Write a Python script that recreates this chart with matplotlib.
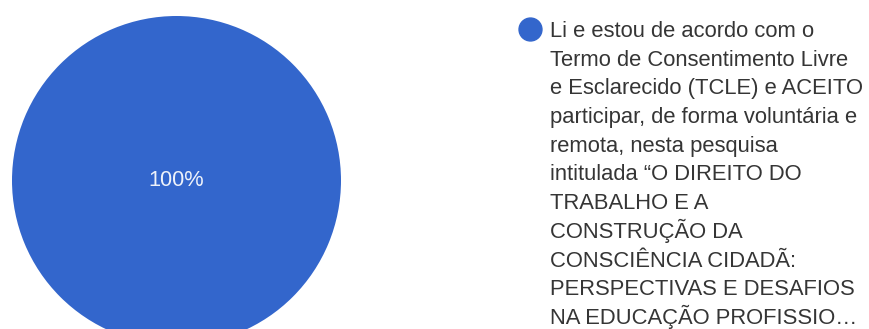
import matplotlib.pyplot as plt
from matplotlib.lines import Line2D

# single answer option, everybody agreed
options = ["Li e estou de acordo com o\n"
           "Termo de Consentimento Livre\n"
           "e Esclarecido (TCLE) e ACEITO\n"
           "participar, de forma voluntária e\n"
           "remota, nesta pesquisa\n"
           "intitulada \u201cO DIREITO DO\n"
           "TRABALHO E A\n"
           "CONSTRUÇÃO DA\n"
           "CONSCIÊNCIA CIDADÃ:\n"
           "PERSPECTIVAS E DESAFIOS\n"
           "NA EDUCAÇÃO PROFISSIO\u2026"]
shares = [100]
colors = ['#3366cc']

W, H = 869, 329
plt.rcParams['font.family'] = ['Liberation Sans', 'DejaVu Sans']
fig = plt.figure(figsize=(W / 100, H / 100), dpi=100)

# pie: centre (176.5, 180.5) px from top-left, radius 164.5 px
cx, cy, r = 176.5, H - 180.5, 164.5
ax = fig.add_axes([(cx - r) / W, (cy - r) / H, 2 * r / W, 2 * r / H])
wedges, texts, autotexts = ax.pie(shares, colors=colors, radius=1,
                                  startangle=90, counterclock=False,
                                  autopct='%1.0f%%', pctdistance=0.0,
                                  wedgeprops=dict(linewidth=0))
ax.set_xlim(-1, 1)
ax.set_ylim(-1, 1)
ax.set_aspect('equal')
ax.axis('off')
for t in autotexts:
    t.set_color('#eef2fa')
    t.set_fontsize(15.7)
    t.set_va('center')

# legend drawn by hand so the dot sits beside the first line
lines = options[0].split('\n')
fig.add_artist(Line2D([530 / W], [1 - 29 / H], marker='o', markersize=16.5,
                      color=colors[0], linestyle='none',
                      transform=fig.transFigure))
for i, line in enumerate(lines):
    base = 37 + i * 28.7
    fig.text(550 / W, 1 - base / H, line, fontsize=15.8, color='#353535',
             ha='left', va='baseline')

fig.savefig('out.png', dpi=100)
